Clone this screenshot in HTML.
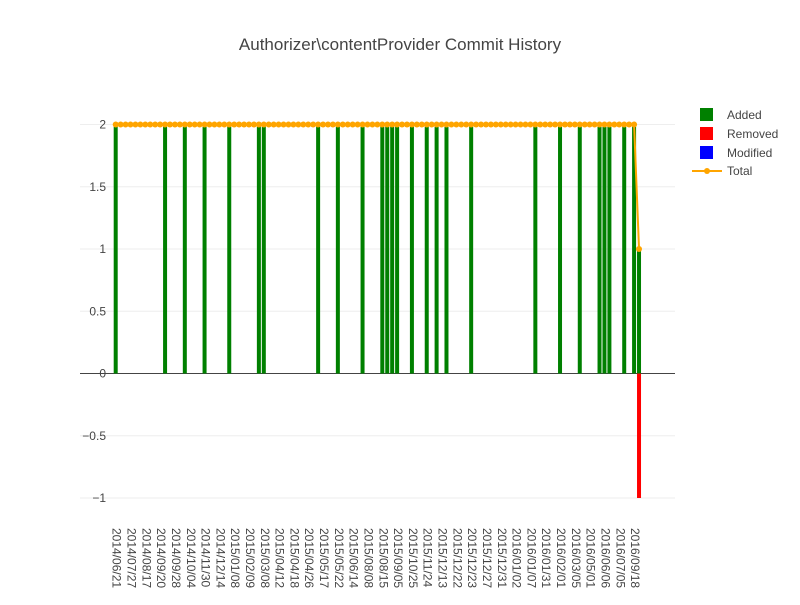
<!DOCTYPE html>
<html><head><meta charset="utf-8"><style>
body{margin:0;background:#fff}
svg text{font-family:"Liberation Sans",sans-serif;fill:#444}
</style></head><body>
<svg id="chart" width="800" height="600" xmlns="http://www.w3.org/2000/svg">
<text x="400" y="50" text-anchor="middle" font-size="17">Authorizer\contentProvider Commit History</text>
<g id="grid"></g><g id="bars"></g><g id="line"></g><g id="xt"></g><g id="yt"></g>
<g>
<g><rect x="700" y="108" width="13" height="13" fill="#008000"/><text x="727" y="119" font-size="12">Added</text></g>
<g><rect x="700" y="127" width="13" height="13" fill="#ff0000"/><text x="727" y="138" font-size="12">Removed</text></g>
<g><rect x="700" y="146" width="13" height="13" fill="#0000ff"/><text x="727" y="157" font-size="12">Modified</text></g>
<g><line x1="692" y1="171" x2="722" y2="171" stroke="#ffa500" stroke-width="2"/><circle cx="707" cy="171" r="3" fill="#ffa500"/><text x="727" y="175" font-size="12">Total</text></g>
</g>
</svg>
<script>
const tickLabels=["2014/06/21","2014/07/27","2014/08/17","2014/09/20","2014/09/28","2014/10/04","2014/11/30","2014/12/14","2015/01/08","2015/02/09","2015/03/08","2015/04/12","2015/04/18","2015/04/26","2015/05/17","2015/05/22","2015/06/14","2015/08/08","2015/08/15","2015/09/05","2015/10/25","2015/11/24","2015/12/13","2015/12/22","2015/12/23","2015/12/27","2015/12/31","2016/01/02","2016/01/07","2016/01/31","2016/02/01","2016/03/05","2016/05/01","2016/06/06","2016/07/05","2016/09/18"];
const tickEvery=3;
const addedIdx=[0,10,14,18,23,29,30,41,45,50,54,55,56,57,60,63,65,67,72,85,90,94,98,99,100,103,105,106];
const addedVals=[2,2,2,2,2,2,2,2,2,2,2,2,2,2,2,2,2,2,2,2,2,2,2,2,2,2,2,1];
const removedIdx=[106];
const removedVals=[-1];
const totalVals=[2,2,2,2,2,2,2,2,2,2,2,2,2,2,2,2,2,2,2,2,2,2,2,2,2,2,2,2,2,2,2,2,2,2,2,2,2,2,2,2,2,2,2,2,2,2,2,2,2,2,2,2,2,2,2,2,2,2,2,2,2,2,2,2,2,2,2,2,2,2,2,2,2,2,2,2,2,2,2,2,2,2,2,2,2,2,2,2,2,2,2,2,2,2,2,2,2,2,2,2,2,2,2,2,2,2,1];
const yTicks=[-1,-0.5,0,0.5,1,1.5,2];
const yTickText=["\u22121","\u22120.5","0","0.5","1","1.5","2"];

const NS="http://www.w3.org/2000/svg";
const X=i=>115.7+i*4.937;
const Y=v=>373.5-v*124.5;
function mk(tag,attrs,parent){const e=document.createElementNS(NS,tag);for(const k in attrs)e.setAttribute(k,attrs[k]);document.getElementById(parent).appendChild(e);return e;}
yTicks.forEach((v,i)=>{
  const g=mk('line',{x1:80,x2:675,y1:Y(v),y2:Y(v),stroke:v===0?'#444':'#eee','stroke-width':1},'grid');
  
  
  const t=mk('text',{x:106,y:Y(v)+4,'text-anchor':'end','font-size':12},'yt');
  t.textContent=yTickText[i];
  
  
});
addedIdx.forEach((ix,k)=>{
  const v=addedVals[k];
  const r=mk('rect',{x:X(ix)-2,y:Y(v),width:4,height:Y(0)-Y(v),fill:'#008000'},'bars');
  
  
});
removedIdx.forEach((ix,k)=>{
  const v=removedVals[k];
  const r=mk('rect',{x:X(ix)-2,y:Y(0),width:4,height:Y(v)-Y(0),fill:'#ff0000'},'bars');
  
  
});
const pl=mk('polyline',{points:totalVals.map((v,i)=>X(i)+','+Y(v)).join(' '),fill:'none',stroke:'#ffa500','stroke-width':2},'line');


totalVals.forEach((v,i)=>{
  const c=mk('circle',{cx:X(i),cy:Y(v),r:3,fill:'#ffa500'},'line');
  
  
});
tickLabels.forEach((s,k)=>{
  const x=X(k*tickEvery)-3;
  const t=mk('text',{x:x,y:528,'font-size':12,transform:`rotate(90 ${x} 528)`},'xt');
  t.textContent=s;
  
  
});
</script>
</body></html>
